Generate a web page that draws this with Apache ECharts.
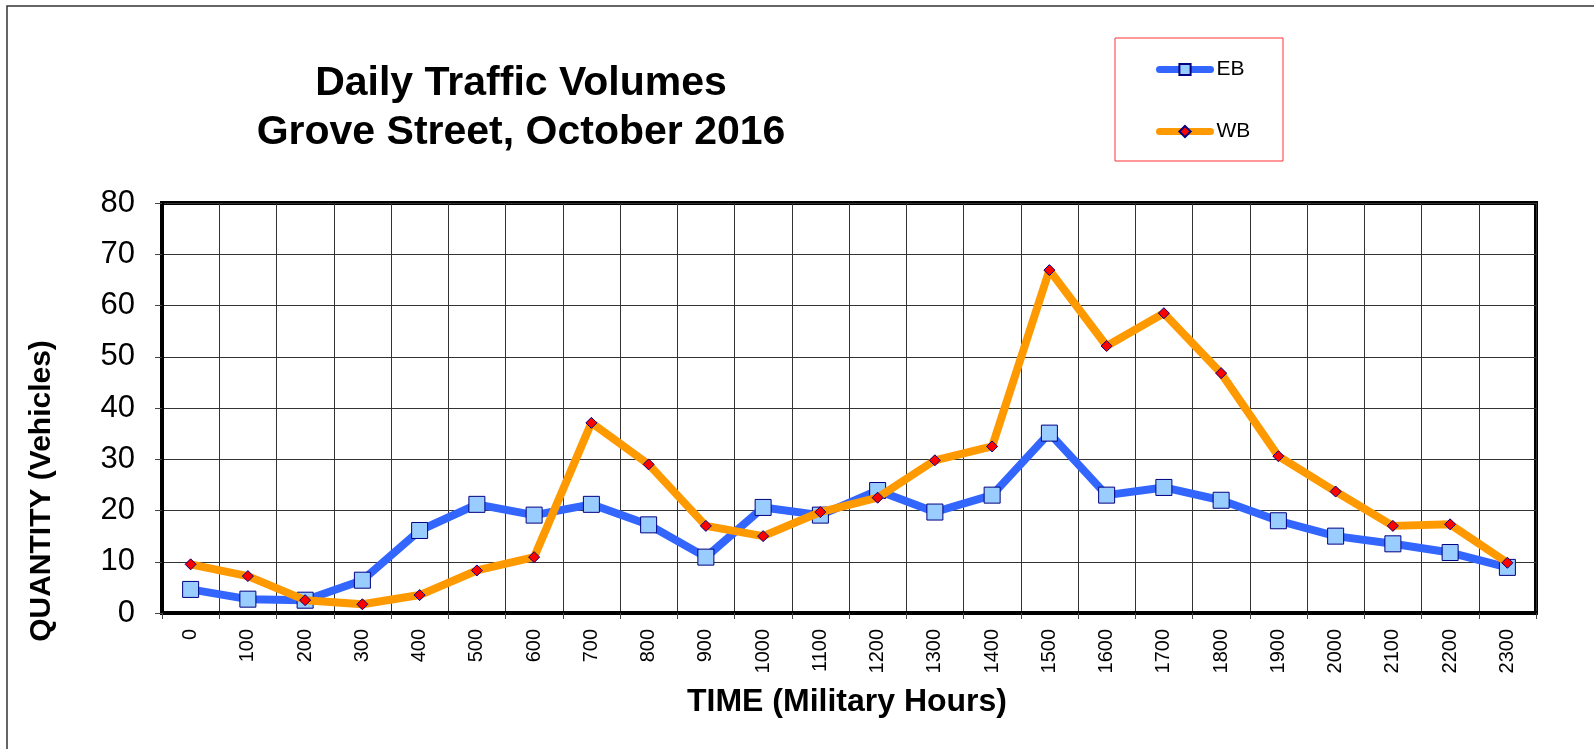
<!DOCTYPE html>
<html>
<head>
<meta charset="utf-8">
<script src="https://cdn.jsdelivr.net/npm/echarts@6/dist/echarts.min.js"></script>
<style>
html,body{margin:0;padding:0;background:#fff;}
#chart{width:1594px;height:749px;}
</style>
</head>
<body>
<div id="chart"></div>
<script>
const categories = ['0','100','200','300','400','500','600','700','800','900','1000','1100','1200','1300','1400','1500','1600','1700','1800','1900','2000','2100','2200','2300'];
const ebValues = [4.6, 2.7, 2.5, 6.4, 16.1, 21.2, 19.1, 21.2, 17.2, 10.9, 20.6, 19.1, 23.9, 19.7, 23.0, 35.1, 23.0, 24.5, 22.0, 18.0, 15.0, 13.5, 11.8, 8.9];
const wbValues = [9.5, 7.2, 2.5, 1.7, 3.5, 8.3, 10.9, 37.1, 29.0, 17.0, 15.0, 19.7, 22.5, 29.8, 32.5, 66.9, 52.1, 58.5, 46.8, 30.6, 23.7, 17.0, 17.3, 9.8];
const yTicks = { min: 0, max: 80, interval: 10 };
const titleLines = ['Daily Traffic Volumes', 'Grove Street, October 2016'];
const xTitle = 'TIME (Military Hours)';
const yTitle = 'QUANTITY (Vehicles)';

const FONT = '"Liberation Sans", Arial, sans-serif';
const chart = echarts.init(document.getElementById('chart'), null, {renderer: 'canvas'});
chart.setOption({
  backgroundColor: '#fff',
  animation: false,
  grid: {
    left: 162, top: 203, right: 58, bottom: 136,
    show: true, borderColor: '#000', borderWidth: 4, backgroundColor: 'transparent'
  },
  legend: {
    left: 1151, top: 54, orient: 'vertical', itemWidth: 51, itemHeight: 14, itemGap: 41,
    lineStyle: {width: 7, cap: 'round'},
    textStyle: {fontFamily: FONT, fontSize: 21, color: '#000', padding: [0,0,0,1]},
    data: ['EB', 'WB']
  },
  xAxis: {
    type: 'category', data: categories, boundaryGap: true,
    axisLine: {lineStyle: {color: '#000', width: 4}},
    axisTick: {show: true, length: 6, lineStyle: {color: '#444', width: 1}},
    axisLabel: {rotate: 90, margin: 16, fontFamily: FONT, fontSize: 20, color: '#000', interval: 0},
    splitLine: {show: true, interval: 0, lineStyle: {color: '#333', width: 1}}
  },
  yAxis: {
    type: 'value', min: yTicks.min, max: yTicks.max, interval: yTicks.interval,
    axisLine: {show: true, lineStyle: {color: '#000', width: 4}},
    axisTick: {show: true, length: 7, lineStyle: {color: '#444', width: 1}},
    axisLabel: {margin: 27, fontFamily: FONT, fontSize: 31, color: '#000'},
    splitLine: {show: true, lineStyle: {color: '#333', width: 1}}
  },
  series: [
    {
      name: 'EB', type: 'line', data: ebValues,
      lineStyle: {color: '#3366FF', width: 8},
      itemStyle: {color: '#99CCFF', borderColor: '#000080', borderWidth: 1},
      symbol: 'rect', symbolSize: 16, z: 2
    },
    {
      name: 'WB', type: 'line', data: wbValues,
      lineStyle: {color: '#FF9900', width: 8},
      itemStyle: {color: '#FF0000', borderColor: '#000080', borderWidth: 1},
      symbol: 'diamond', symbolSize: 11, z: 3
    }
  ],
  graphic: [
    {type: 'rect', shape: {x: 7, y: 6, width: 1700, height: 900}, style: {fill: 'none', stroke: '#333', lineWidth: 1.5}, silent: true, z: -10},
    {type: 'rect', shape: {x: 1115, y: 38, width: 168, height: 123}, style: {fill: 'none', stroke: '#FF3333', lineWidth: 1}, silent: true},
    {type: 'text', x: 521, y: 84, style: {text: titleLines[0], font: 'bold 41px ' + FONT, fill: '#000', align: 'center', verticalAlign: 'middle'}},
    {type: 'text', x: 521, y: 133, style: {text: titleLines[1], font: 'bold 41px ' + FONT, fill: '#000', align: 'center', verticalAlign: 'middle'}},
    {type: 'text', x: 847, y: 702, style: {text: xTitle, font: 'bold 32px ' + FONT, fill: '#000', align: 'center', verticalAlign: 'middle'}},
    {type: 'text', x: 42, y: 491, rotation: Math.PI / 2, style: {text: yTitle, font: 'bold 30px ' + FONT, fill: '#000', align: 'center', verticalAlign: 'middle'}}
  ]
});
</script>
</body>
</html>
